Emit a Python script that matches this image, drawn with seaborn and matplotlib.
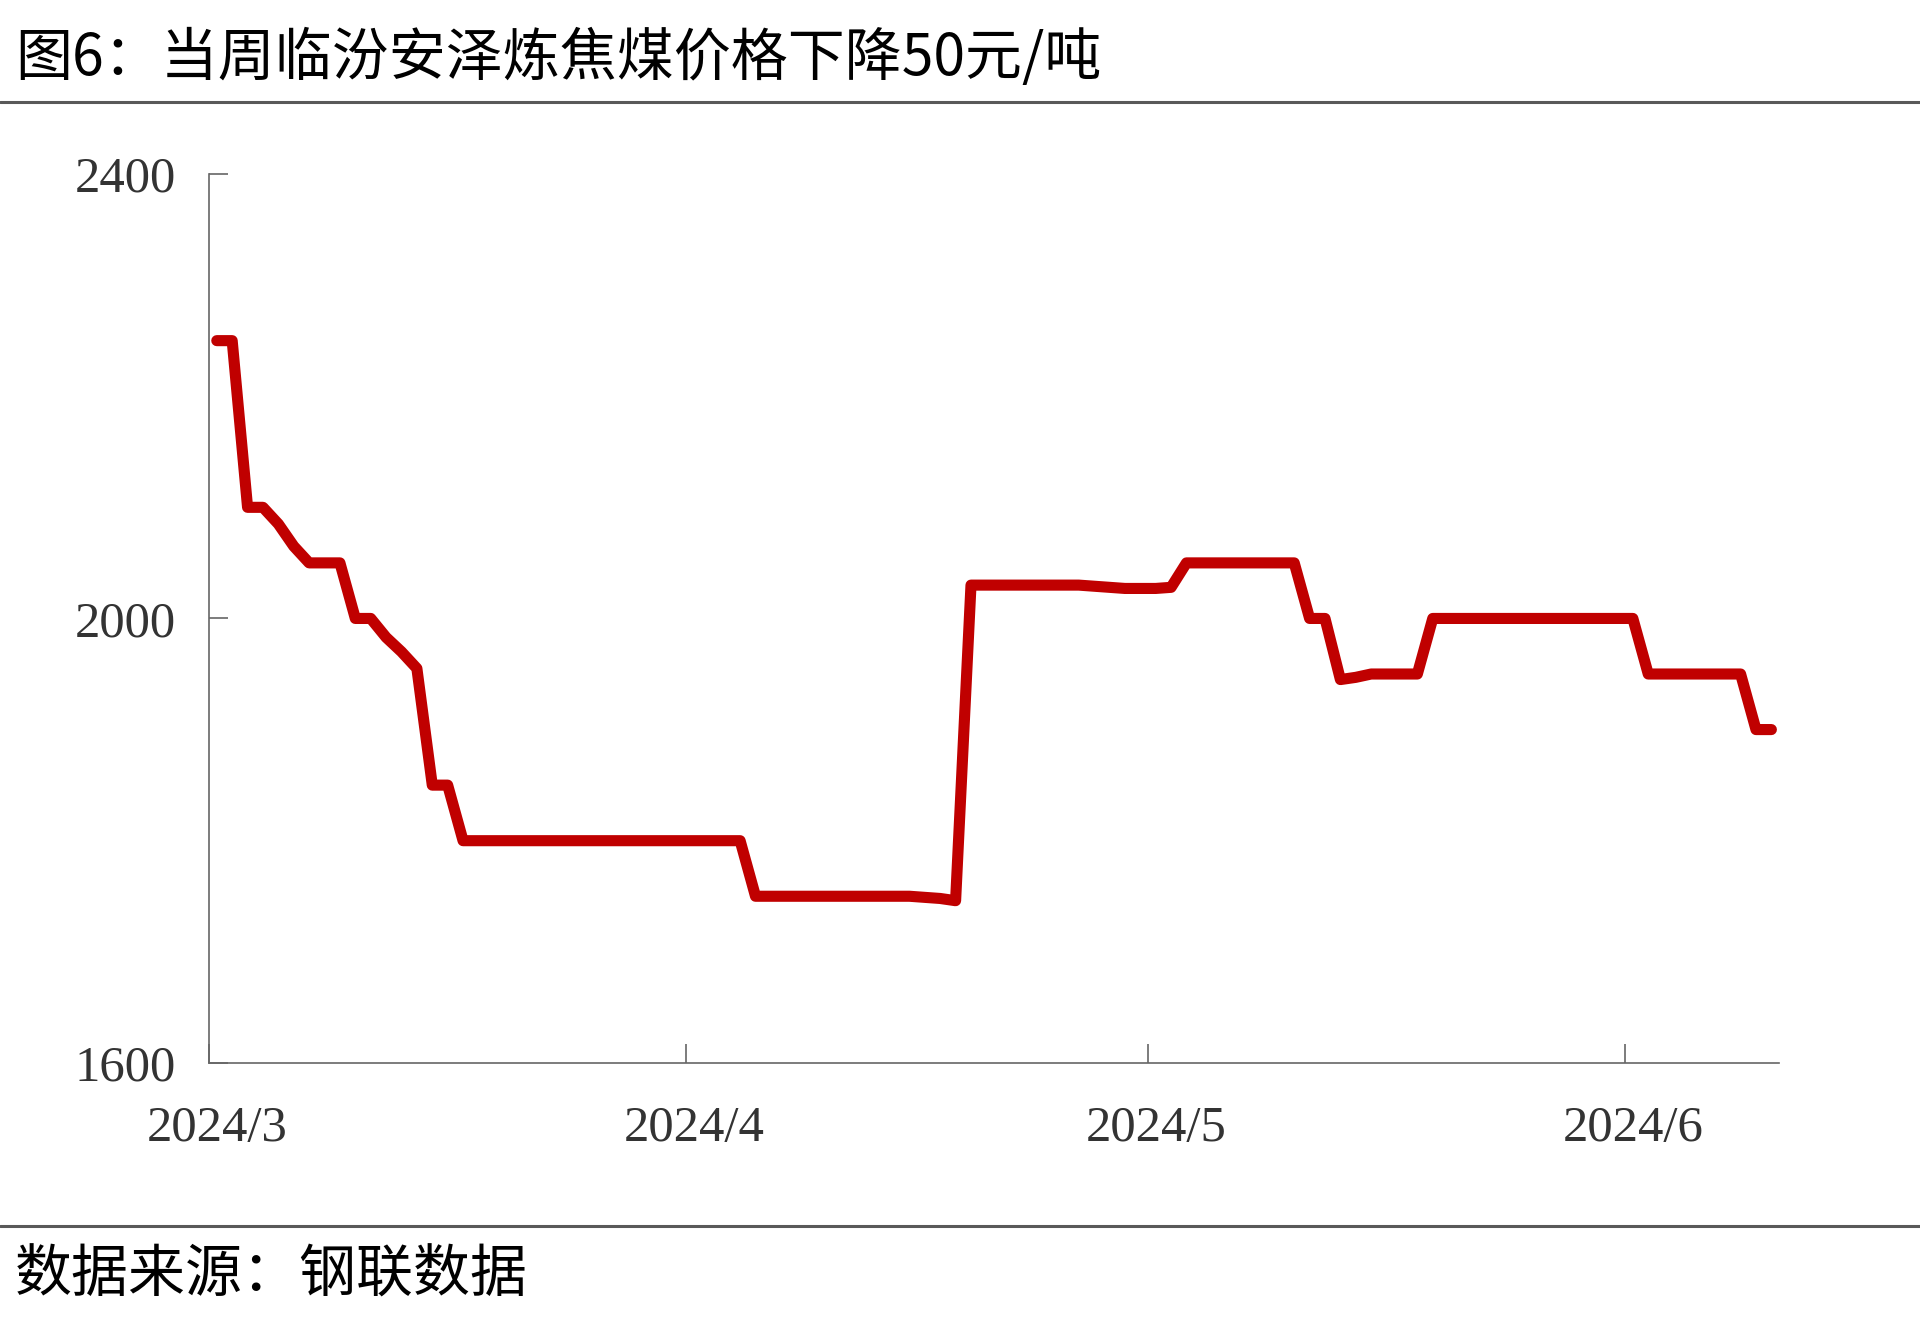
import matplotlib
matplotlib.use("Agg")
import matplotlib.pyplot as plt
from matplotlib.lines import Line2D
import pandas as pd
import seaborn as sns

# --- data: 临汾安泽炼焦煤 daily price (元/吨), 2024/3/1 .. 2024/6/10 ---
start_date = "2024-03-01"
prices = [
    2250, 2250, 2100, 2100, 2085, 2065, 2050, 2050, 2050, 2000,   # 3/1-3/10
    2000, 1983, 1970, 1955, 1850, 1850, 1800, 1800, 1800, 1800,   # 3/11-3/20
    1800, 1800, 1800, 1800, 1800, 1800, 1800, 1800, 1800, 1800,   # 3/21-3/30
    1800, 1800, 1800, 1800, 1800, 1750, 1750, 1750, 1750, 1750,   # 3/31-4/9
    1750, 1750, 1750, 1750, 1750, 1750, 1749, 1748, 1746, 2030,   # 4/10-4/19
    2030, 2030, 2030, 2030, 2030, 2030, 2030, 2029, 2028, 2027,   # 4/20-4/29
    2027, 2027, 2028, 2050, 2050, 2050, 2050, 2050, 2050, 2050,   # 4/30-5/9
    2050, 2000, 2000, 1945, 1947, 1950, 1950, 1950, 1950, 2000,   # 5/10-5/19
    2000, 2000, 2000, 2000, 2000, 2000, 2000, 2000, 2000, 2000,   # 5/20-5/29
    2000, 2000, 2000, 1950, 1950, 1950, 1950, 1950, 1950, 1950,   # 5/30-6/8
    1900, 1900,                                                   # 6/9-6/10
]
month_starts = ["2024-03-01", "2024-04-01", "2024-05-01", "2024-06-01"]
month_labels = ["2024/3", "2024/4", "2024/5", "2024/6"]
y_ticks = [1600, 2000, 2400]

title = "图6：当周临汾安泽炼焦煤价格下降50元/吨"
source = "数据来源：钢联数据"

dates = pd.date_range(start_date, periods=len(prices), freq="D")
df = pd.DataFrame({"date": dates, "price": prices})

sns.set_style("white")
plt.rcParams["font.family"] = ["Noto Sans CJK SC", "DejaVu Sans"]

fig = plt.figure(figsize=(19.2, 13.31), dpi=100)
ax = fig.add_axes([0.1089, 0.2014, 0.8177, 0.6679])

sns.lineplot(data=df, x="date", y="price", ax=ax, color="#C00000",
             linewidth=8, solid_capstyle="round", solid_joinstyle="round")

# Excel-style date axis: each point sits in the middle of its day slot
half = pd.Timedelta(hours=12)
ax.set_xlim(dates[0] - half, dates[-1] + half)
ax.set_ylim(1600, 2400)

bounds = [pd.Timestamp(m) - half for m in month_starts]
ax.set_xticks(bounds)
ax.set_xticklabels([])
ax.set_xticks([pd.Timestamp(m) for m in month_starts], minor=True)
ax.set_xticklabels(month_labels, minor=True)
ax.set_yticks(y_ticks)
ax.set_yticklabels([str(v) for v in y_ticks])

grey = "#666666"
ax.tick_params(axis="both", which="major", direction="in", length=14,
               width=1.2, color=grey, bottom=True, left=True)
ax.tick_params(axis="x", which="minor", length=0, pad=31, bottom=True)
ax.tick_params(axis="y", which="major", pad=24)
for lab in ax.get_xticklabels(minor=True) + ax.get_yticklabels():
    lab.set_family(["Liberation Serif", "DejaVu Serif"])
    lab.set_fontsize(36.5)
    lab.set_color("#333333")

for s in ["top", "right"]:
    ax.spines[s].set_visible(False)
for s in ["left", "bottom"]:
    ax.spines[s].set_color(grey)
    ax.spines[s].set_linewidth(1.2)

ax.set_xlabel("")
ax.set_ylabel("")
ax.grid(False)

# title, source and the two rule lines
fig.text(0.0078, 0.9555, title, fontsize=41, ha="left", va="center", color="black")
fig.text(0.0078, 0.0420, source, fontsize=41, ha="left", va="center", color="black")
fig.add_artist(Line2D([0, 1], [0.9234, 0.9234], transform=fig.transFigure,
                      color="#595959", linewidth=2.2))
fig.add_artist(Line2D([0, 1], [0.0789, 0.0789], transform=fig.transFigure,
                      color="#595959", linewidth=2.2))

fig.savefig("out.png", dpi=100, facecolor="white")
